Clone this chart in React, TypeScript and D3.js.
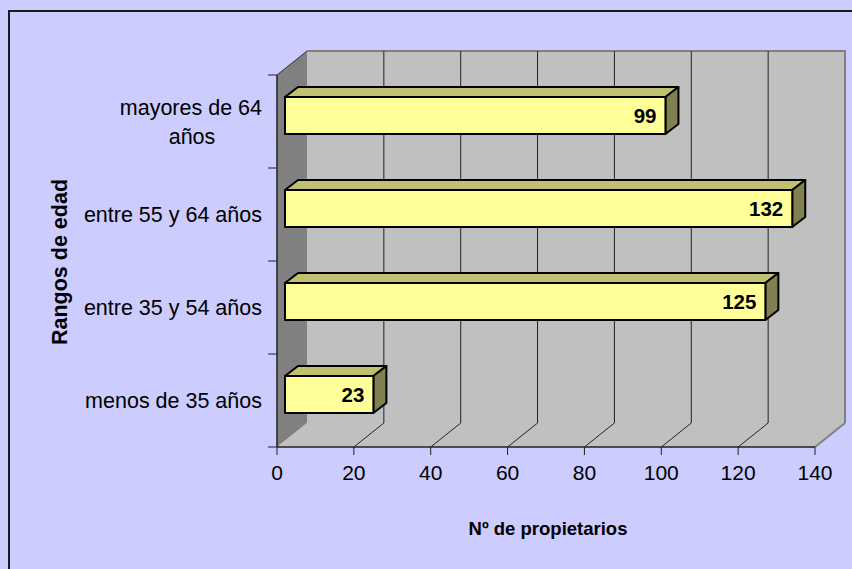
import React from "react";
import * as d3 from "d3";

const categories = ["mayores de 64 años", "entre 55 y 64 años", "entre 35 y 54 años", "menos de 35 años"];
const categoryLines = [["mayores de 64", "años"], ["entre 55 y 64 años"], ["entre 35 y 54 años"], ["menos de 35 años"]];
const values = [99, 132, 125, 23];
const xTicks = [0, 20, 40, 60, 80, 100, 120, 140];
const xTitle = "Nº de propietarios";
const yTitle = "Rangos de edad";

const W = 852;
const H = 569;
const FONT = "Arial, 'Liberation Sans', sans-serif";

export default function App() {
  const left = 277, right = 815, top = 75, bottom = 447;
  const DX = 30, DY = -24;
  const x = d3.scaleLinear().domain([0, 140]).range([left, right]);
  const y = d3.scaleBand<string>().domain(categories).range([top, bottom]);
  const bw = y.bandwidth();
  const fdx = 8, fdy = -6; // bar front-face depth offset
  const bdx = 13, bdy = -10; // bar depth
  const barH = 37;

  return (
    <svg width={W} height={H} style={{ position: "absolute", left: 0, top: 0 }}>
      <rect x={0} y={0} width={W} height={H} fill="#CCCCFF" />
      <path d={`M9,${H + 5} V11 H${W + 5}`} fill="none" stroke="#1a1a1a" strokeWidth={2} />
      {/* back wall */}
      <rect x={left + DX} y={top + DY} width={right - left} height={bottom - top} fill="#C0C0C0" />
      <path d={`M${left + DX},${top + DY} H${right + DX} V${bottom + DY}`} fill="none" stroke="#808080" strokeWidth={2} />
      {/* left wall */}
      <polygon
        points={`${left},${top} ${left + DX},${top + DY} ${left + DX},${bottom + DY} ${left},${bottom}`}
        fill="#808080"
      />
      <line x1={left} y1={top} x2={left + DX} y2={top + DY} stroke="#333" strokeWidth={1} />
      {/* floor */}
      <polygon
        points={`${left},${bottom} ${right},${bottom} ${right + DX},${bottom + DY} ${left + DX},${bottom + DY}`}
        fill="#C0C0C0"
      />
      <line x1={right} y1={bottom} x2={right + DX} y2={bottom + DY} stroke="#808080" strokeWidth={2} />
      {/* gridlines */}
      {xTicks.filter((t) => t > 0 && t < 140).map((t) => (
        <g key={"g" + t}>
          <line x1={x(t) + DX} y1={top + DY} x2={x(t) + DX} y2={bottom + DY} stroke="#222" strokeWidth={1} />
          <line x1={x(t)} y1={bottom} x2={x(t) + DX} y2={bottom + DY} stroke="#222" strokeWidth={1} />
        </g>
      ))}
      {/* axes */}
      <line x1={left} y1={top} x2={left} y2={bottom} stroke="#222" strokeWidth={1.5} />
      <line x1={left} y1={bottom} x2={right} y2={bottom} stroke="#222" strokeWidth={1.5} />
      {[...categories.map((c) => y(c)!), bottom].map((ty, i) => (
        <line key={"yt" + i} x1={left - 9} y1={ty} x2={left} y2={ty} stroke="#222" strokeWidth={1} />
      ))}
      {xTicks.map((t) => (
        <g key={"xt" + t}>
          <line x1={x(t)} y1={bottom} x2={x(t)} y2={bottom + 8} stroke="#222" strokeWidth={1} />
          <text x={x(t)} y={480} textAnchor="middle" fontFamily={FONT} fontSize={21} fill="#000">
            {t}
          </text>
        </g>
      ))}
      {/* bars */}
      {categories.map((c, i) => {
        const cy = y(c)! + bw / 2 + fdy;
        const t = cy - barH / 2;
        const b = cy + barH / 2;
        const x0 = x(0) + fdx;
        const x1 = x(values[i]) + fdx;
        return (
          <g key={"b" + i} stroke="#000" strokeWidth={2} strokeLinejoin="round">
            <polygon points={`${x0},${t} ${x1},${t} ${x1 + bdx},${t + bdy} ${x0 + bdx},${t + bdy}`} fill="#C0C070" />
            <polygon points={`${x1},${t} ${x1 + bdx},${t + bdy} ${x1 + bdx},${b + bdy} ${x1},${b}`} fill="#808050" />
            <rect x={x0} y={t} width={x1 - x0} height={b - t} fill="#FFFF99" />
            <text
              x={x1 - 9}
              y={cy + 7.5}
              textAnchor="end"
              fontFamily={FONT}
              fontSize={20.5}
              fontWeight="bold"
              stroke="none"
              fill="#000"
            >
              {values[i]}
            </text>
          </g>
        );
      })}
      {/* category labels */}
      {categories.map((c, i) => {
        const lines = categoryLines[i];
        const cy = y(c)! + bw / 2;
        if (lines.length === 1) {
          return (
            <text key={"cl" + i} x={262} y={cy + 7.5} textAnchor="end" fontFamily={FONT} fontSize={21.5} fill="#000">
              {lines[0]}
            </text>
          );
        }
        return (
          <g key={"cl" + i}>
            <text x={262} y={cy - 14 + 7.5} textAnchor="end" fontFamily={FONT} fontSize={21.5} fill="#000">
              {lines[0]}
            </text>
            <text x={192} y={cy + 15 + 7.5} textAnchor="middle" fontFamily={FONT} fontSize={21.5} fill="#000">
              {lines[1]}
            </text>
          </g>
        );
      })}
      {/* titles */}
      <text x={548} y={535} textAnchor="middle" fontFamily={FONT} fontSize={18.5} fontWeight="bold" fill="#000">
        {xTitle}
      </text>
      <text
        transform={`translate(67,262) rotate(-90)`}
        textAnchor="middle"
        fontFamily={FONT}
        fontSize={21.5}
        fontWeight="bold"
        fill="#000"
      >
        {yTitle}
      </text>
    </svg>
  );
}
